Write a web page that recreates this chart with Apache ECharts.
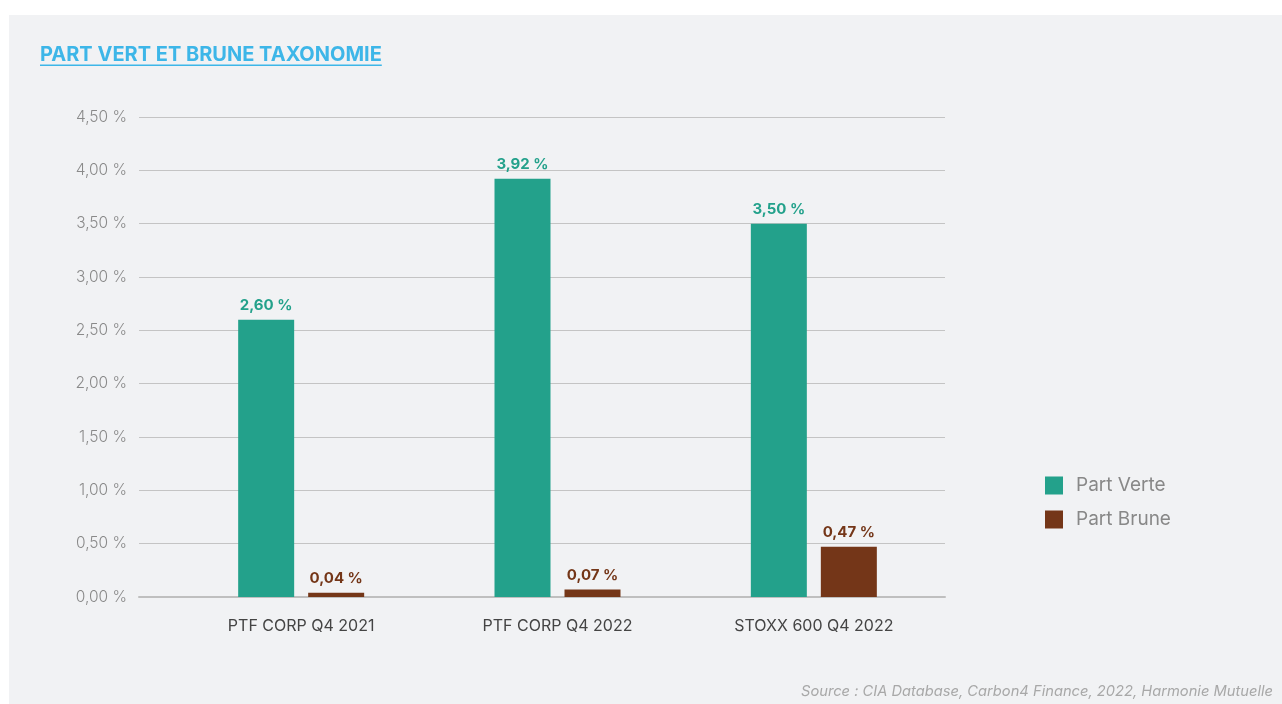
<!DOCTYPE html>
<html><head><meta charset="utf-8">
<style>html,body{margin:0;padding:0;background:#fff;}#c{width:1282px;height:704px;}</style>
<script src="https://cdn.jsdelivr.net/npm/echarts@6/dist/echarts.min.js"></script>
</head><body><div id="c"></div>
<script>
const categories = ['PTF CORP Q4 2021', 'PTF CORP Q4 2022', 'STOXX 600 Q4 2022'];
const partVerte = [2.60, 3.92, 3.50];
const partBrune = [0.04, 0.07, 0.47];
const seriesNames = ['Part Verte', 'Part Brune'];
const titleText = 'PART VERT ET BRUNE TAXONOMIE';
const sourceText = 'Source : CIA Database, Carbon4 Finance, 2022, Harmonie Mutuelle';

const FONT = 'Inter, "Noto Sans", sans-serif';
const GREEN = '#23a18b', BROWN = '#743618';
const fmt = v => v.toFixed(2).replace('.', ',') + ' %';

const cv = document.createElement('canvas').getContext('2d');
cv.font = 'bold 20px ' + FONT;
const titleW = cv.measureText(titleText).width;

const chart = echarts.init(document.getElementById('c'), null, {renderer: 'canvas'});
chart.setOption({
  backgroundColor: '#ffffff',
  animation: false,
  graphic: [
    {type: 'rect', z: -10, shape: {x: 9, y: 15, width: 1273, height: 689}, style: {fill: '#f1f2f4'}},
    {type: 'text', left: 40, top: 45, style: {text: titleText, font: 'bold 20px ' + FONT, fill: '#3db6e8'}},
    {type: 'rect', shape: {x: 40, y: 64.5, width: titleW, height: 1.5}, style: {fill: '#3db6e8'}},
    {type: 'text', right: 9, top: 684, style: {text: sourceText, font: 'italic 14.7px ' + FONT, fill: '#a8a8a8'}}
  ],
  legend: {
    orient: 'vertical', left: 1040, top: 471, itemWidth: 18, itemHeight: 18, itemGap: 15,
    icon: 'rect', data: seriesNames,
    textStyle: {fontFamily: FONT, fontSize: 19, color: '#888888', padding: [0, 0, 0, 8]}
  },
  grid: [
    {left: 139, right: 337, top: 117, bottom: 107},
    {left: 173, right: 340, top: 117, bottom: 107}
  ],
  xAxis: [
    {gridIndex: 0, type: 'category', data: [''], axisLabel: {show: false}, axisTick: {show: false},
     axisLine: {show: true, lineStyle: {color: '#bfbfbf', width: 2}}},
    {gridIndex: 1, type: 'category', data: categories, axisTick: {show: false}, axisLine: {show: false},
     axisLabel: {margin: 21, fontFamily: FONT, fontSize: 16, color: '#444444'}}
  ],
  yAxis: [
    {gridIndex: 0, type: 'value', min: 0, max: 4.5, interval: 0.5,
     axisLine: {show: false}, axisTick: {show: false},
     axisLabel: {margin: 12, formatter: fmt, fontFamily: FONT, fontSize: 15.5, color: '#8a8a8a', fontWeight: 300},
     splitLine: {lineStyle: {color: '#c4c4c4', width: 1}}},
    {gridIndex: 1, type: 'value', min: 0, max: 4.5, interval: 0.5, show: false, splitLine: {show: false}}
  ],
  series: [
    {name: seriesNames[0], type: 'bar', xAxisIndex: 1, yAxisIndex: 1, data: partVerte,
     barWidth: 56, barGap: '25%', itemStyle: {color: GREEN},
     label: {show: true, position: 'top', distance: 7, formatter: p => fmt(p.value),
             fontFamily: FONT, fontSize: 15, fontWeight: 'bold', color: GREEN}},
    {name: seriesNames[1], type: 'bar', xAxisIndex: 1, yAxisIndex: 1, data: partBrune,
     barWidth: 56, barGap: '25%', itemStyle: {color: BROWN},
     label: {show: true, position: 'top', distance: 7, formatter: p => fmt(p.value),
             fontFamily: FONT, fontSize: 15, fontWeight: 'bold', color: BROWN}}
  ]
});
</script></body></html>
